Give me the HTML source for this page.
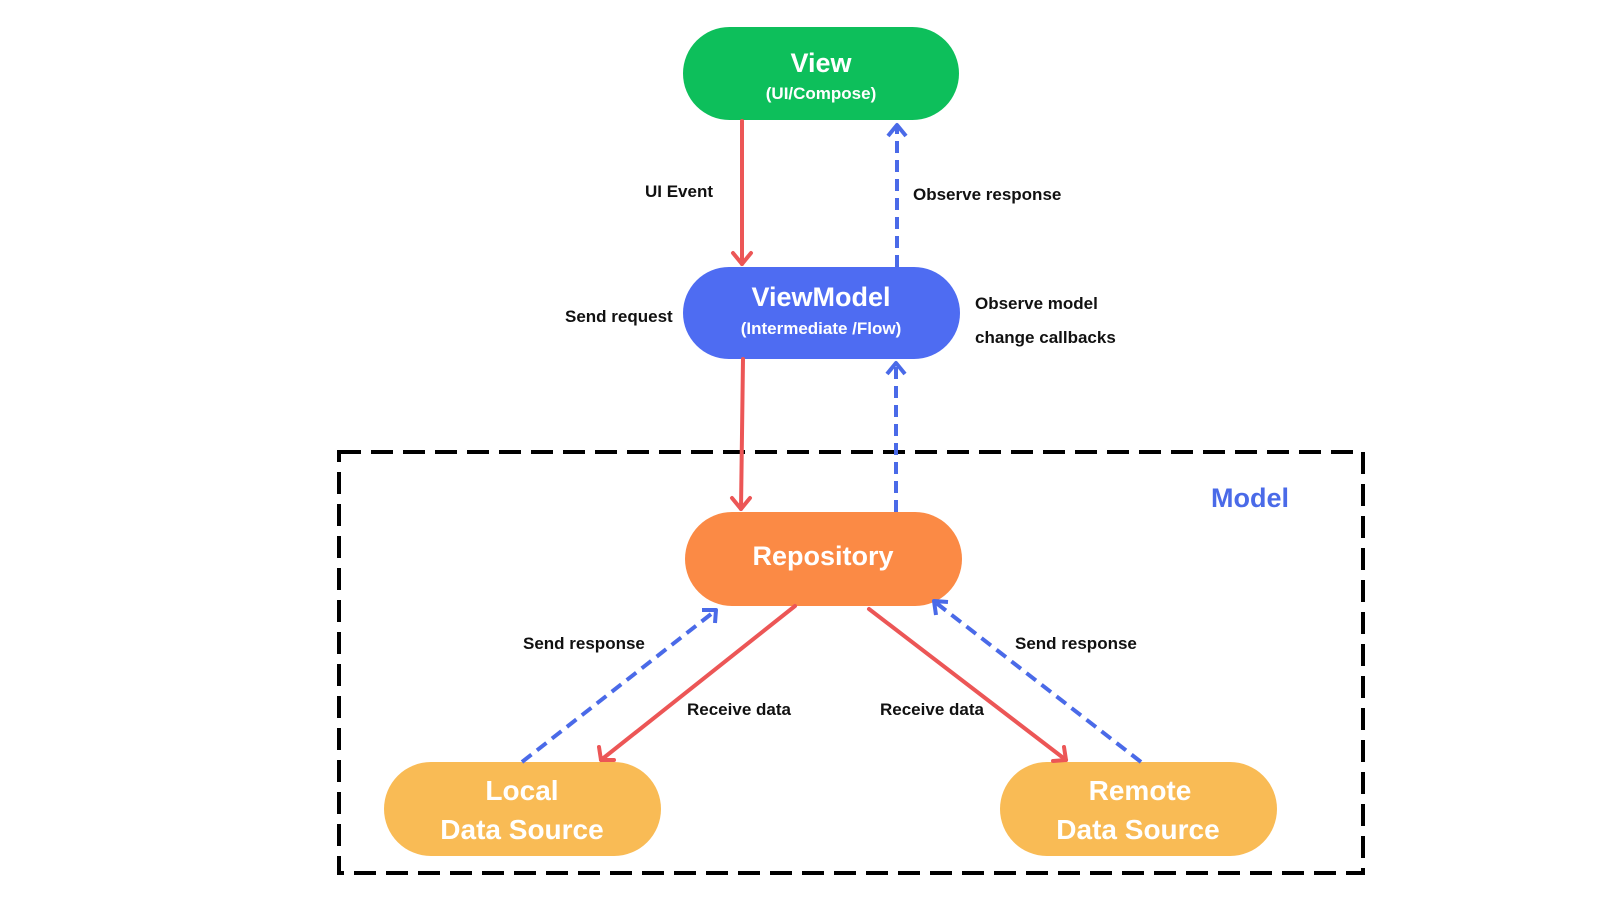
<!DOCTYPE html>
<html><head><meta charset="utf-8"><style>
html,body{margin:0;padding:0;background:#fff;}
svg{display:block;}
text{font-family:"Liberation Sans",sans-serif;font-weight:bold;}
</style></head><body>
<svg width="1600" height="900" viewBox="0 0 1600 900" xmlns="http://www.w3.org/2000/svg">
<rect x="339" y="452" width="1024" height="421" fill="none" stroke="#000" stroke-width="4" stroke-dasharray="22,10"/>
<text x="1211" y="507" font-size="27" fill="#4a6ae8">Model</text>

<rect x="683" y="27" width="276" height="93" rx="46.5" fill="#0dbf5b"/>
<text x="821" y="72" font-size="27" fill="#fff" text-anchor="middle">View</text>
<text x="821" y="99" font-size="17" fill="#fff" text-anchor="middle">(UI/Compose)</text>

<rect x="683" y="267" width="277" height="92" rx="46" fill="#4e6cf2"/>
<text x="821" y="306" font-size="27" fill="#fff" text-anchor="middle">ViewModel</text>
<text x="821" y="334" font-size="17" fill="#fff" text-anchor="middle">(Intermediate /Flow)</text>

<rect x="685" y="512" width="277" height="94" rx="47" fill="#fb8a45"/>
<text x="823" y="565" font-size="27" fill="#fff" text-anchor="middle">Repository</text>

<rect x="384" y="762" width="277" height="94" rx="47" fill="#f9bb55"/>
<text x="522" y="800" font-size="28" fill="#fff" text-anchor="middle">Local</text>
<text x="522" y="839" font-size="28" fill="#fff" text-anchor="middle">Data Source</text>

<rect x="1000" y="762" width="277" height="94" rx="47" fill="#f9bb55"/>
<text x="1140" y="800" font-size="28" fill="#fff" text-anchor="middle">Remote</text>
<text x="1138" y="839" font-size="28" fill="#fff" text-anchor="middle">Data Source</text>

<g stroke="#ec5656" stroke-width="4" fill="none" stroke-linecap="round" stroke-linejoin="round">
<line x1="742" y1="121" x2="742" y2="264"/>
<polyline points="733,253 742,264 751,253"/>
<line x1="743" y1="359" x2="741" y2="509"/>
<polyline points="732,498 741,509 750,498"/>
<line x1="795" y1="606" x2="601" y2="760"/>
<polyline points="599,747 601,760 614,760"/>
<line x1="869" y1="609" x2="1066" y2="760"/>
<polyline points="1053,761 1066,760 1064,747"/>
</g>
<g stroke="#4a6ae8" stroke-width="4" fill="none" stroke-linejoin="round">
<line x1="897" y1="267" x2="897" y2="126" stroke-dasharray="12,7"/>
<polyline points="888,136 897,125 906,136"/>
<line x1="896" y1="512" x2="896" y2="364" stroke-dasharray="12,7"/>
<polyline points="887,374 896,363 905,374"/>
<line x1="522" y1="762" x2="715" y2="611" stroke-dasharray="12,7"/>
<polyline points="702,610 716,610 715,623"/>
<line x1="1141" y1="762" x2="935" y2="602" stroke-dasharray="12,7"/>
<polyline points="936,615 934,601 948,602"/>
</g>

<g font-size="17" fill="#111">
<text x="645" y="197">UI Event</text>
<text x="913" y="200">Observe response</text>
<text x="565" y="322">Send request</text>
<text x="975" y="309">Observe model</text>
<text x="975" y="343">change callbacks</text>
<text x="523" y="649">Send response</text>
<text x="687" y="715">Receive data</text>
<text x="880" y="715">Receive data</text>
<text x="1015" y="649">Send response</text>
</g>
</svg>
</body></html>
